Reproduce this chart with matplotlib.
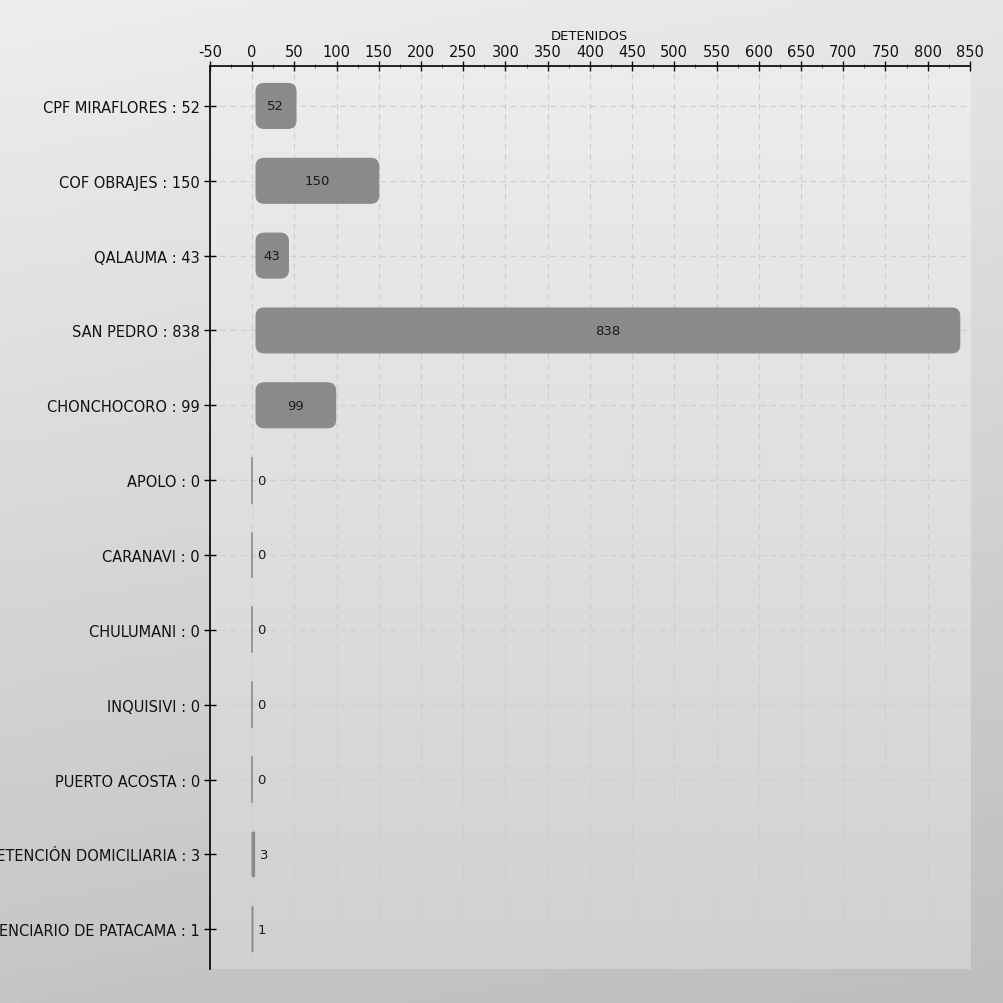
import numpy as np
import matplotlib
matplotlib.use("Agg")
import matplotlib.pyplot as plt
from matplotlib.patches import FancyBboxPatch
from matplotlib.ticker import MultipleLocator

categories = ["CPF MIRAFLORES", "COF OBRAJES", "QALAUMA", "SAN PEDRO", "CHONCHOCORO",
              "APOLO", "CARANAVI", "CHULUMANI", "INQUISIVI", "PUERTO ACOSTA",
              "DETENCIÓN DOMICILIARIA", "PENITENCIARIO DE PATACAMA"]
values = [52, 150, 43, 838, 99, 0, 0, 0, 0, 0, 3, 1]
x_label = "DETENIDOS"
x_min, x_max, x_step = -50, 850, 50

plt.rcParams['font.family'] = ['DejaVu Sans']
plt.rcParams['axes.unicode_minus'] = False

fig = plt.figure(figsize=(10.04, 10.04), dpi=100)

# figure background gradient
bg = fig.add_axes([0, 0, 1, 1], zorder=-10)
yy, xx = np.mgrid[0:1:200j, 0:1:200j]
grad = 0.93 - 0.16 * yy - 0.03 * xx
bg.imshow(grad, cmap='gray', vmin=0, vmax=1, extent=(0, 1, 0, 1), aspect='auto', origin='upper')
bg.axis('off')

ax = fig.add_axes([0.209, 0.034, 0.757, 0.899])
ax.set_facecolor('none')

# plot area gradient
g2 = np.linspace(0.925, 0.815, 200)[:, None] * np.ones((1, 20))
ax.imshow(g2, cmap='gray', vmin=0, vmax=1, extent=(0, 1, 0, 1), aspect='auto',
          origin='upper', transform=ax.transAxes, zorder=0)

n = len(categories)
ypos = np.arange(n)
bars = ax.barh(ypos, values, height=0.6, color='none', edgecolor='none')

FS = 9.5
px_x = 0.757 * 1004 / (x_max - x_min)
px_y = 0.899 * 1004 / (n + 0.06)
for rect, v in zip(bars.patches, values):
    x0, y0 = rect.get_x(), rect.get_y()
    w, h = rect.get_width(), rect.get_height()
    if w <= 0:
        ax.plot([x0, x0], [y0, y0 + h], color='#8c8c8c', lw=1.2, zorder=3)
        ax.text(v + 6, y0 + h / 2, str(v), ha='left', va='center', fontsize=FS,
                color='#1a1a1a', zorder=4)
        continue
    big = w * px_x > 16
    r_px = min(8, w * px_x / 2)
    rs = r_px / px_x
    off = 4 / px_x if big else 0
    p = FancyBboxPatch((x0 + off, y0), w - off, h,
                       boxstyle=f"round,pad=0,rounding_size={rs}",
                       mutation_aspect=(r_px / px_y) / rs,
                       facecolor='#8a8a8a', edgecolor='#8a8a8a', lw=0.8, zorder=3)
    ax.add_patch(p)
    if v >= 20:
        ax.text(v / 2 + 2, y0 + h / 2, str(v), ha='center', va='center',
                fontsize=FS, color='#1a1a1a', zorder=4)
    else:
        ax.text(v + 6, y0 + h / 2, str(v), ha='left', va='center',
                fontsize=FS, color='#1a1a1a', zorder=4)

ax.set_xlim(x_min, x_max)
ax.set_ylim(n - 0.47, -0.53)
ax.set_yticks(ypos)
ax.set_yticklabels([f"{c} : {v}" for c, v in zip(categories, values)], fontsize=10.5, color='#111111')
ax.xaxis.set_major_locator(MultipleLocator(x_step))
ax.xaxis.set_minor_locator(MultipleLocator(x_step / 2))
ax.xaxis.tick_top()
ax.xaxis.set_label_position('top')
ax.set_xlabel(x_label, fontsize=9.5, labelpad=3, color='#111111')
ax.tick_params(axis='x', which='major', direction='inout', length=7, width=1, labelsize=10.5, pad=2, colors='#111111')
ax.tick_params(axis='x', which='minor', direction='inout', length=3, width=0.6, colors='#555555')
ax.tick_params(axis='y', direction='inout', length=8, width=1, pad=3)

for s in ['right', 'bottom']:
    ax.spines[s].set_visible(False)
ax.spines['top'].set_linewidth(1.2)
ax.spines['left'].set_linewidth(1.2)

ax.grid(True, which='major', axis='both', linestyle=(0, (5, 4)), color='#cdcdcd', lw=0.8, zorder=1)
ax.set_axisbelow(True)

fig.savefig("out.png", dpi=100)
